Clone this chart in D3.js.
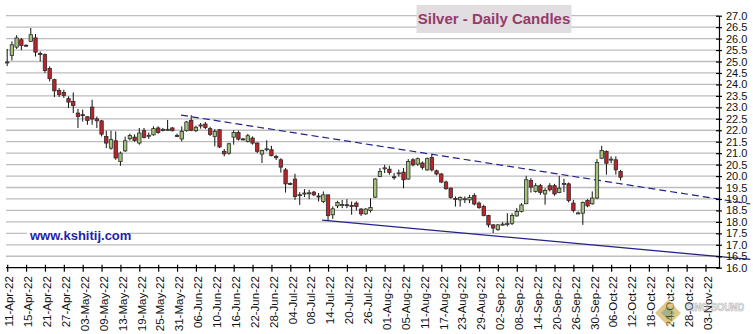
<!DOCTYPE html>
<html>
<head>
<meta charset="utf-8">
<script src="https://cdn.jsdelivr.net/npm/d3@7"></script>
<style>
  html, body { margin: 0; padding: 0; background: #fff; }
  svg { display: block; font-family: "Liberation Sans", Arial, sans-serif; }
</style>
</head>
<body>
<svg id="chart" width="753" height="334"></svg>
<script>
// ---- Silver daily candles, 11-Apr-22 .. 10-Oct-22 (one entry per weekday session) ----
const firstSession = "2022-04-11";
const lastSession = "2022-11-08";

const opens = [
  24.96, 25.27, 25.63, 25.95, 25.71, 25.88, 26.03, 25.35, 25.30, 24.70,
  24.21, 23.74, 23.65, 23.38, 23.26, 22.75, 22.68, 22.59, 23.01, 22.50,
  22.41, 21.73, 21.22, 21.54, 20.64, 21.10, 21.63, 21.70, 21.44, 21.98,
  21.74, 21.80, 22.10, 22.00, 22.02, 22.10, 21.77, 21.62, 21.98, 22.43,
  21.98, 22.21, 22.27, 22.07, 21.73, 22.02, 21.08, 21.00, 21.70, 21.90,
  21.62, 21.51, 21.66, 21.44, 20.96, 21.17, 21.15, 20.85, 20.71, 20.27,
  19.68, 19.87, 19.17, 19.24, 19.25, 19.30, 19.13, 18.89, 19.18, 18.31,
  18.70, 18.74, 18.75, 18.72, 18.82, 18.56, 18.35, 18.50, 19.08, 19.98,
  20.34, 20.30, 19.97, 20.10, 20.17, 19.87, 20.71, 20.52, 20.57, 20.27,
  20.81, 20.23, 20.09, 19.74, 19.47, 19.02, 18.96, 19.00, 18.96, 19.15,
  18.82, 18.67, 18.28, 17.87, 17.66, 17.88, 17.88, 17.94, 18.26, 18.45,
  18.79, 19.81, 19.33, 19.58, 19.22, 19.58, 19.58, 19.28, 19.66, 19.66,
  18.82, 18.38, 18.38, 18.93, 18.79, 19.04, 20.78, 21.07, 20.72, 20.71,
  20.20
];
const highs = [
  25.55, 25.88, 26.15, 26.03, 25.75, 26.46, 26.20, 25.44, 25.35, 24.79,
  24.25, 23.84, 23.77, 23.48, 23.65, 22.93, 22.90, 22.60, 23.33, 22.60,
  22.45, 21.98, 21.98, 21.95, 21.07, 21.72, 21.85, 21.82, 22.10, 22.10,
  21.90, 22.17, 22.17, 22.10, 22.45, 22.14, 21.85, 22.17, 22.40, 22.66,
  22.20, 22.32, 22.36, 22.15, 22.05, 22.05, 21.18, 21.45, 22.00, 21.99,
  21.66, 21.84, 21.73, 21.47, 21.15, 21.56, 21.32, 20.93, 20.78, 20.35,
  19.72, 20.10, 19.30, 19.43, 19.40, 19.35, 19.26, 19.33, 19.18, 18.67,
  18.92, 18.96, 18.99, 18.89, 18.89, 18.60, 18.60, 19.03, 19.91, 20.35,
  20.49, 20.45, 20.13, 20.28, 20.35, 20.74, 20.78, 20.81, 20.64, 20.81,
  20.93, 20.28, 20.13, 19.80, 19.50, 19.11, 19.11, 19.11, 19.18, 19.25,
  18.89, 18.75, 18.31, 17.90, 17.90, 17.99, 18.38, 18.38, 18.60, 18.82,
  20.01, 19.91, 19.69, 19.66, 19.47, 19.69, 19.66, 20.01, 19.88, 19.72,
  18.96, 18.45, 18.89, 18.99, 19.33, 20.74, 21.32, 21.12, 20.86, 20.86,
  20.27
];
const lows = [
  24.80, 25.05, 25.55, 25.50, 25.66, 25.85, 25.22, 25.00, 24.50, 24.13,
  23.45, 23.45, 23.41, 22.97, 22.75, 22.10, 22.38, 22.24, 22.24, 22.10,
  21.73, 21.22, 21.15, 20.71, 20.45, 21.05, 21.55, 21.50, 21.37, 21.64,
  21.62, 21.76, 21.85, 21.95, 21.98, 21.95, 21.70, 21.51, 21.94, 21.96,
  21.92, 22.07, 22.05, 21.75, 21.30, 21.22, 20.86, 20.93, 21.37, 21.55,
  21.56, 21.47, 21.37, 21.00, 20.57, 21.08, 20.86, 20.70, 20.15, 19.28,
  19.60, 18.96, 18.74, 19.08, 18.99, 19.12, 18.89, 18.82, 18.06, 18.13,
  18.60, 18.60, 18.60, 18.31, 18.50, 18.26, 18.31, 18.41, 19.04, 19.95,
  20.13, 20.06, 19.84, 19.98, 19.47, 19.84, 20.42, 20.45, 20.28, 20.23,
  20.20, 20.03, 19.69, 19.40, 19.01, 18.67, 18.67, 18.82, 18.82, 18.72,
  18.57, 18.24, 17.76, 17.51, 17.61, 17.84, 17.80, 17.86, 18.23, 18.41,
  18.79, 19.28, 19.28, 19.18, 18.75, 19.33, 19.14, 19.25, 19.30, 18.85,
  18.41, 18.35, 17.87, 18.64, 18.75, 18.99, 20.74, 20.06, 20.56, 20.06,
  19.81
];
const closes = [
  24.98, 25.73, 26.03, 25.70, 25.69, 26.17, 25.41, 25.31, 24.61, 24.25,
  23.72, 23.56, 23.52, 23.23, 23.08, 22.60, 22.67, 22.43, 22.49, 22.41,
  21.83, 21.44, 21.59, 20.79, 21.00, 21.54, 21.77, 21.55, 21.88, 21.69,
  21.78, 22.07, 21.90, 22.03, 22.04, 21.98, 21.75, 21.95, 22.36, 22.00,
  22.13, 22.23, 22.12, 21.82, 21.95, 21.27, 20.97, 21.41, 21.90, 21.61,
  21.60, 21.76, 21.44, 21.08, 21.12, 21.19, 20.89, 20.80, 20.39, 19.66,
  19.64, 19.11, 19.19, 19.26, 19.27, 19.18, 19.09, 19.18, 18.27, 18.57,
  18.85, 18.76, 18.74, 18.71, 18.67, 18.35, 18.56, 18.63, 19.87, 20.20,
  20.36, 20.16, 19.95, 20.14, 19.84, 20.64, 20.49, 20.76, 20.38, 20.76,
  20.27, 20.09, 19.74, 19.45, 19.07, 19.00, 19.07, 19.01, 19.07, 18.78,
  18.63, 18.28, 17.87, 17.73, 17.87, 17.90, 17.94, 18.28, 18.45, 18.74,
  19.84, 19.52, 19.58, 19.28, 19.37, 19.40, 19.22, 19.47, 19.68, 18.93,
  18.50, 18.39, 18.85, 18.70, 19.04, 20.59, 21.12, 20.56, 20.74, 20.27,
  19.95
];

// date labels shown on the time axis
const tickLabels = [
  "11-Apr-22", "15-Apr-22", "21-Apr-22", "27-Apr-22", "03-May-22", "09-May-22",
  "13-May-22", "19-May-22", "25-May-22", "31-May-22", "06-Jun-22", "10-Jun-22",
  "16-Jun-22", "22-Jun-22", "28-Jun-22", "04-Jul-22", "08-Jul-22", "14-Jul-22",
  "20-Jul-22", "26-Jul-22", "01-Aug-22", "05-Aug-22", "11-Aug-22", "17-Aug-22",
  "23-Aug-22", "29-Aug-22", "02-Sep-22", "08-Sep-22", "14-Sep-22", "20-Sep-22",
  "26-Sep-22", "30-Sep-22", "06-Oct-22", "12-Oct-22", "18-Oct-22", "24-Oct-22",
  "28-Oct-22", "03-Nov-22"
];
// price levels on the right-hand axis
const priceTicks = [16.0, 16.5, 17.0, 17.5, 18.0, 18.5, 19.0, 19.5, 20.0, 20.5,
  21.0, 21.5, 22.0, 22.5, 23.0, 23.5, 24.0, 24.5, 25.0, 25.5, 26.0, 26.5, 27.0];

// channel lines: [session position, price] end points
const upperTrend = [[36.85, 22.66], [157.5, 18.78]];
const lowerTrend = [[66.74, 18.08], [157.5, 16.36]];

// ---- layout ----
const svg = d3.select("#chart");
const plotLeft = 6, plotRight = 719, plotTop = 15.7, plotBottom = 267.7;

// weekday session calendar
const parseDay = d3.timeParse("%Y-%m-%d");
const fmt = d3.timeFormat("%d-%b-%y");
const sessions = d3.timeDay.range(parseDay(firstSession), d3.timeDay.offset(parseDay(lastSession), 1))
  .filter(d => d.getDay() !== 0 && d.getDay() !== 6);
const sessionIndex = new Map(sessions.map((d, i) => [fmt(d), i]));

const candles = opens.map((o, i) => ({
  date: sessions[i], i, open: o, high: highs[i], low: lows[i], close: closes[i]
}));

const x = d3.scaleLinear().domain([0, 148]).range([7.2, 705.5]);
const y = d3.scaleLinear().domain([16, 27]).range([plotBottom, plotTop]);

// ---- horizontal grid ----
svg.append("g")
  .selectAll("line")
  .data(priceTicks.filter(v => v > 16))
  .join("line")
  .attr("x1", plotLeft).attr("x2", plotRight)
  .attr("y1", d => y(d)).attr("y2", d => y(d))
  .attr("stroke", "#bdbdbd")
  .attr("stroke-width", 1.3);

// ---- title ----
const title = svg.append("g");
title.append("rect")
  .attr("x", 416.5).attr("y", 5).attr("width", 155).attr("height", 28)
  .attr("fill", "#e1dde0");
title.append("text")
  .attr("x", 494).attr("y", 24.3)
  .attr("text-anchor", "middle")
  .attr("font-weight", "bold")
  .attr("font-size", 15)
  .attr("fill", "#963a6a")
  .text("Silver - Daily Candles");

// ---- site label ----
svg.append("rect")
  .attr("x", 27).attr("y", 228).attr("width", 100).attr("height", 16)
  .attr("fill", "#fff");
svg.append("text")
  .attr("x", 30).attr("y", 240)
  .attr("font-weight", "bold")
  .attr("font-size", 13)
  .attr("fill", "#1e22a8")
  .text("www.kshitij.com");

// ---- channel lines ----
const trendLine = d3.line().x(d => x(d[0])).y(d => y(d[1]));
svg.append("path")
  .attr("d", trendLine(upperTrend))
  .attr("fill", "none")
  .attr("stroke", "#23238c")
  .attr("stroke-width", 1.2)
  .attr("stroke-dasharray", "7,4");
svg.append("path")
  .attr("d", trendLine(lowerTrend))
  .attr("fill", "none")
  .attr("stroke", "#23238c")
  .attr("stroke-width", 1.3);

// ---- candles ----
const bodyW = 3.4;
const cg = svg.append("g").selectAll("g").data(candles).join("g");
cg.append("line")
  .attr("x1", d => x(d.i)).attr("x2", d => x(d.i))
  .attr("y1", d => y(d.high)).attr("y2", d => y(d.low))
  .attr("stroke", "#111")
  .attr("stroke-width", 1);
cg.append("rect")
  .attr("x", d => x(d.i) - bodyW / 2)
  .attr("width", bodyW)
  .attr("y", d => y(Math.max(d.open, d.close)))
  .attr("height", d => Math.max(1, Math.abs(y(d.open) - y(d.close))))
  .attr("fill", d => d.close >= d.open ? "#a5c27a" : "#bd2329")
  .attr("stroke", "#2a2a2a")
  .attr("stroke-width", 0.8);

// ---- time axis ----
const xAxis = d3.axisBottom(x)
  .tickValues(tickLabels.map(l => sessionIndex.get(l)))
  .tickFormat(i => fmt(sessions[i]))
  .tickSize(4)
  .tickSizeOuter(0);
const gx = svg.append("g")
  .attr("transform", `translate(0,${plotBottom})`)
  .call(xAxis);
gx.select(".domain").remove();
gx.append("line")
  .attr("x1", plotLeft).attr("x2", plotRight)
  .attr("stroke", "#000").attr("stroke-width", 1.2);
gx.selectAll(".tick line").attr("y1", -3).attr("stroke", "#000").attr("stroke-width", 1.2);
gx.selectAll(".tick text")
  .attr("font-family", "Liberation Sans, Arial, sans-serif")
  .attr("font-size", 11.5)
  .attr("fill", "#111")
  .attr("text-anchor", "end")
  .attr("transform", "rotate(-90)")
  .attr("x", -8.5)
  .attr("y", 0)
  .attr("dy", "0.5em");

// ---- price axis ----
const yAxis = d3.axisRight(y)
  .tickValues(priceTicks)
  .tickFormat(d3.format(".1f"))
  .tickSize(3)
  .tickSizeOuter(0);
const gy = svg.append("g")
  .attr("transform", `translate(${plotRight},0)`)
  .call(yAxis);
gy.select(".domain").attr("stroke", "#000").attr("stroke-width", 1.2);
gy.selectAll(".tick line").attr("x1", -3).attr("stroke", "#000").attr("stroke-width", 1.2);
gy.selectAll(".tick text")
  .attr("font-family", "Liberation Sans, Arial, sans-serif")
  .attr("font-size", 11)
  .attr("fill", "#111")
  .attr("x", 7);

// ---- corner mark ----
const mark = svg.append("g").attr("opacity", 0.6);
mark.append("path")
  .attr("d", "M668,299 L682,313 L668,327 L654,313 Z")
  .attr("fill", "#c9a43b").attr("stroke", "#fff").attr("stroke-width", 1.5);
mark.append("path")
  .attr("d", "M668,306 L675,313 L668,320 L661,313 Z")
  .attr("fill", "#6b7f3a");
mark.append("text")
  .attr("x", 686).attr("y", 311)
  .attr("font-weight", "bold").attr("font-size", 10)
  .attr("textLength", 58).attr("lengthAdjust", "spacingAndGlyphs")
  .attr("fill", "#fff").attr("stroke", "#777").attr("stroke-width", 0.6)
  .text("SINO SOUND");
</script>
</body>
</html>
